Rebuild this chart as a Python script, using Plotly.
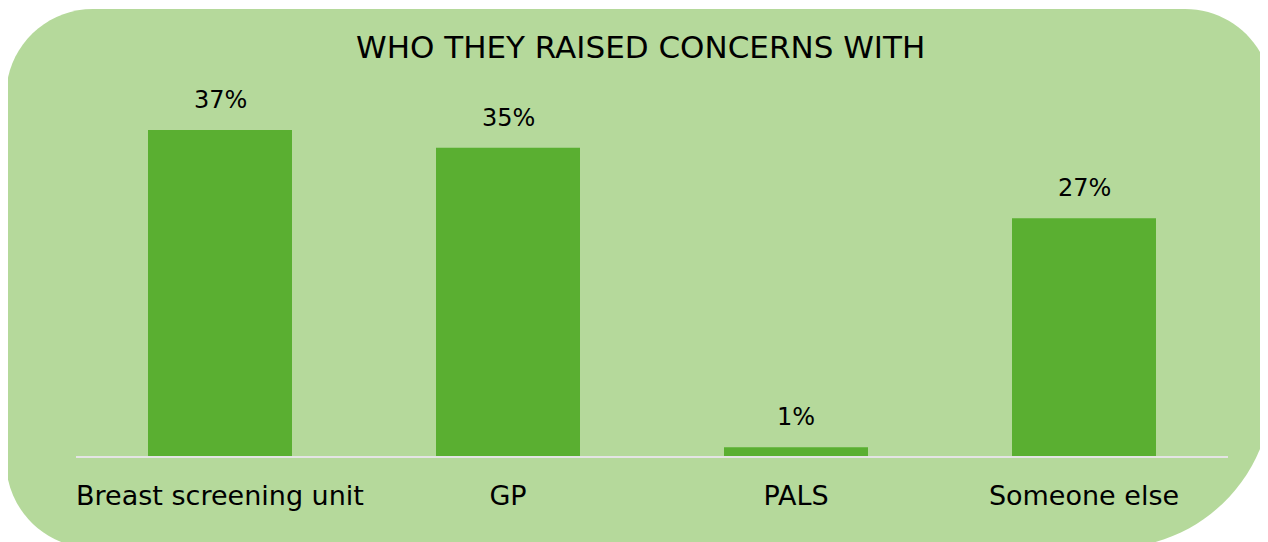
"""Bar chart: who they raised concerns with."""

import plotly.graph_objects as go

CATEGORIES = ["Breast screening unit", "GP", "PALS", "Someone else"]
PERCENTAGES = [37, 35, 1, 27]
TITLE = "WHO THEY RAISED CONCERNS WITH"

# the page body adds an 8px margin; size the figure to fill the rest of the window
OFFSET = 8
WIDTH, HEIGHT = 1268 - OFFSET, 542 - OFFSET
MARGIN = {"l": 76 - OFFSET, "r": 40, "t": 100 - OFFSET, "b": 86}
PLOT_W = WIDTH - MARGIN["l"] - MARGIN["r"]
PLOT_H = HEIGHT - MARGIN["t"] - MARGIN["b"]

BG_GREEN = "#b5d99b"
BAR_GREEN = "#5aaf31"
FONT = "DejaVu Sans"


def px_to_paper(x, y):
    # x, y in page pixels
    x -= OFFSET
    y -= OFFSET
    return (x - MARGIN["l"]) / PLOT_W, (HEIGHT - MARGIN["b"] - y) / PLOT_H


def rounded_rect_path(left, top, right, bottom, r_tl, r_tr, r_br, r_bl):
    k = 0.5523

    def p(x, y):
        xp, yp = px_to_paper(x, y)
        return f"{xp:.5f},{yp:.5f}"

    parts = [
        f"M {p(left + r_tl, top)}",
        f"L {p(right - r_tr, top)}",
        f"C {p(right - r_tr + k * r_tr, top)} {p(right, top + r_tr - k * r_tr)} {p(right, top + r_tr)}",
        f"L {p(right, bottom - r_br)}",
        f"C {p(right, bottom - r_br + k * r_br)} {p(right - r_br + k * r_br, bottom)} {p(right - r_br, bottom)}",
        f"L {p(left + r_bl, bottom)}",
        f"C {p(left + r_bl - k * r_bl, bottom)} {p(left, bottom - r_bl + k * r_bl)} {p(left, bottom - r_bl)}",
        f"L {p(left, top + r_tl)}",
        f"C {p(left, top + r_tl - k * r_tl)} {p(left + r_tl - k * r_tl, top)} {p(left + r_tl, top)}",
        "Z",
    ]
    return " ".join(parts)


fig = go.Figure(
    go.Bar(
        x=CATEGORIES,
        y=PERCENTAGES,
        marker={"color": BAR_GREEN, "line": {"width": 0}},
        hovertemplate="%{x}: %{y}%<extra></extra>",
    )
)

for cat, val in zip(CATEGORIES, PERCENTAGES):
    fig.add_annotation(
        x=cat,
        y=val,
        text=f"{val}%",
        showarrow=False,
        yanchor="bottom",
        yshift=14,
        font={"family": FONT, "size": 24, "color": "#000000"},
    )

title_x, title_y = px_to_paper(640, 47)
fig.add_annotation(
    xref="paper",
    yref="paper",
    x=title_x,
    y=title_y,
    text=TITLE,
    showarrow=False,
    xanchor="center",
    yanchor="middle",
    font={"family": FONT, "size": 31, "color": "#000000"},
)

fig.add_shape(
    type="path",
    xref="paper",
    yref="paper",
    path=rounded_rect_path(6, 9, 1272, 548, 87, 87, 160, 87),
    fillcolor=BG_GREEN,
    line={"width": 0},
    layer="below",
)

fig.update_traces(width=0.5)
fig.update_xaxes(
    showline=True,
    linecolor="#e4e4e4",
    linewidth=2,
    showgrid=False,
    ticks="",
    ticklabelstandoff=15,
    tickfont={"family": FONT, "size": 27, "color": "#000000"},
    fixedrange=True,
)
fig.update_yaxes(
    range=[0, PLOT_H / 8.81],
    visible=False,
    showgrid=False,
    zeroline=False,
    fixedrange=True,
)
fig.update_layout(
    width=WIDTH,
    height=HEIGHT,
    margin=MARGIN,
    paper_bgcolor="white",
    plot_bgcolor="rgba(0,0,0,0)",
    showlegend=False,
    font={"family": FONT},
)

fig.write_html("out.html")
